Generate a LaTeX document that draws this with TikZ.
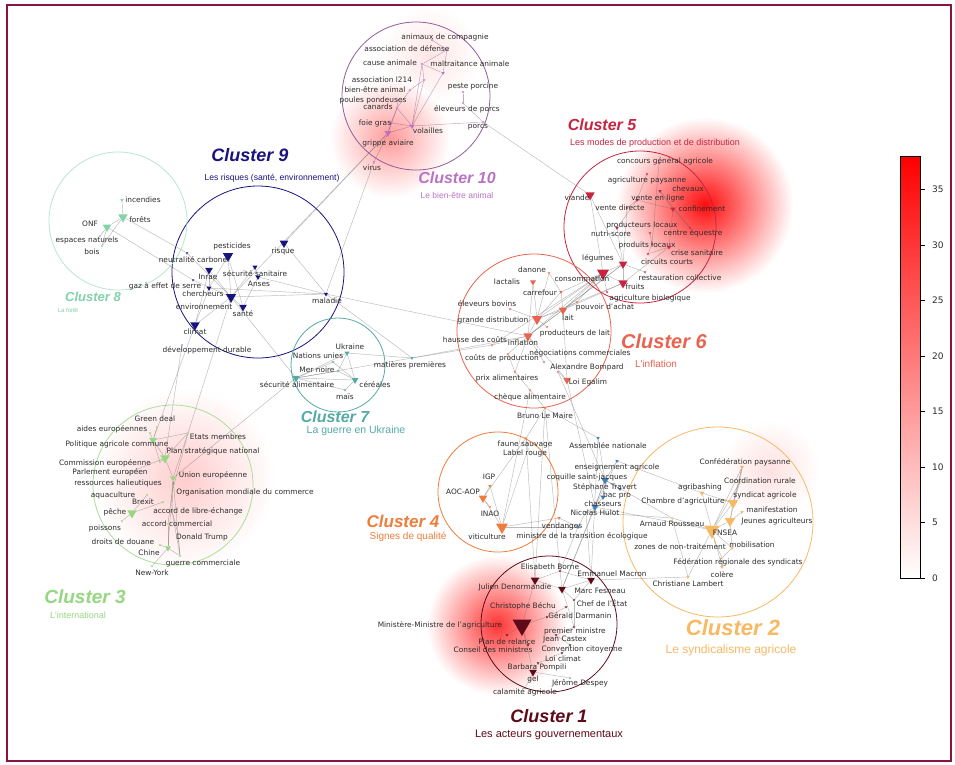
\documentclass[tikz,border=0pt]{standalone}
\usepackage{fontspec}
\setmainfont{DejaVu Sans}
\newfontfamily\titlefont{Liberation Sans}
\usetikzlibrary{shapes.geometric}
\pgfdeclarelayer{bg}\pgfdeclarelayer{edgelay}
\pgfsetlayers{bg,edgelay,main}
\definecolor{cA}{RGB}{95,10,25}
\definecolor{cB}{RGB}{247,185,100}
\definecolor{cC}{RGB}{150,215,130}
\definecolor{cD}{RGB}{238,125,60}
\definecolor{cE}{RGB}{200,35,65}
\definecolor{cF}{RGB}{232,100,80}
\definecolor{cG}{RGB}{85,170,165}
\definecolor{cH}{RGB}{130,210,170}
\definecolor{cI}{RGB}{25,20,125}
\definecolor{cJ}{RGB}{185,115,195}
\definecolor{cK}{RGB}{60,125,190}
\definecolor{frm}{RGB}{135,20,65}
\definecolor{lab}{RGB}{45,45,45}
\newcommand\cn[8]{\node[tri=#4,fill=#5] (#1) at (#2,#3) {};\node[lbl] (#1l) at (#6,#7) {#8};}
\begin{document}
\begin{tikzpicture}[x=1pt,y=-1pt,
 tri/.style={regular polygon,regular polygon sides=3,shape border rotate=180,inner sep=0pt,minimum size=#1pt,draw=none},
 lbl/.style={font=\fontsize{7.4}{8}\selectfont,text=lab,inner sep=0pt},
 edge/.style={draw=black!60,opacity=0.45,line width=0.45pt},
 ctitle/.style={font=\titlefont\bfseries\itshape\fontsize{#1}{#1}\selectfont,inner sep=0pt},
 csub/.style={font=\titlefont\fontsize{#1}{#1}\selectfont,inner sep=0pt},
 ring/.style={line width=0.8pt}]
\useasboundingbox (0,0) rectangle (955,764);
\begin{pgfonlayer}{bg}
\fill[white] (0,0) rectangle (955,764);
\shade[inner color=red!20,outer color=white] (185,478) circle (90pt);
\shade[inner color=red!10,outer color=white] (430,55) circle (50pt);
\shade[inner color=red!40,outer color=white] (390,138) circle (60pt);
\shade[inner color=red!95,outer color=white] (705,205) circle (88pt);
\shade[inner color=red!12,outer color=white] (770,470) circle (50pt);
\shade[inner color=red!80,outer color=white] (497,625) circle (70pt);
\draw[ring,draw=cJ!80!black] (416,96) circle (74pt);
\draw[ring,draw=cE] (640,227) circle (76pt);
\draw[ring,draw=cI] (258,272) circle (86pt);
\draw[ring,draw=cH!55] (118,221) circle (69pt);
\draw[ring,draw=cF] (534,331) circle (77pt);
\draw[ring,draw=cG] (338,365) circle (47pt);
\draw[ring,draw=cC!80] (173,485) circle (80pt);
\draw[ring,draw=cD] (498,492) circle (60pt);
\draw[ring,draw=cB] (718,522) circle (95pt);
\draw[ring,draw=cA] (549,624) circle (68pt);
\end{pgfonlayer}
% Cluster 10
\cn{k1}{432}{40}{3}{cJ}{445}{37}{animaux de compagnie}
\cn{k2}{447}{50}{3}{cJ}{407}{49}{association de défense}
\cn{k3}{422}{64}{3}{cJ}{390}{63}{cause animale}
\cn{k4}{443}{73}{4}{cJ}{470}{64}{maltraitance animale}
\cn{k5}{424}{80}{3}{cJ}{382}{80}{association l214}
\cn{k6}{463}{92}{3}{cJ}{473}{86}{peste porcine}
\cn{k7}{410}{90}{3}{cJ}{375}{90}{bien-être animal}
\cn{k8}{398}{100}{3}{cJ}{373}{100}{poules pondeuses}
\cn{k9}{397}{108}{3}{cJ}{378}{107}{canards}
\cn{k10}{463}{103}{3}{cJ}{467}{109}{éleveurs de porcs}
\cn{k11}{391}{123}{4}{cJ}{375}{123}{foie gras}
\cn{k12}{412}{126}{6}{cJ}{428}{131}{volailles}
\cn{k13}{483}{122}{3}{cJ}{478}{127}{porcs}
\cn{k14}{388}{133}{8}{cJ}{388}{143}{grippe aviaire}
\cn{k15}{374}{162}{3}{cJ}{372}{168}{virus}
% Cluster 9
\cn{r1}{228}{256}{12}{cI}{232}{246}{pesticides}
\cn{r2}{284}{243}{10}{cI}{283}{251}{risque}
\cn{r3}{187}{253}{3}{cI}{193}{260}{neutralité carbone}
\cn{r4}{209}{270}{9}{cI}{208}{277}{Inrae}
\cn{r5}{255}{267}{6}{cI}{255}{274}{sécurité sanitaire}
\cn{r6}{193}{280}{3}{cI}{165}{286}{gaz à effet de serre}
\cn{r7}{258}{277}{6}{cI}{259}{284}{Anses}
\cn{r8}{209}{288}{6}{cI}{203}{294}{chercheurs}
\cn{r9}{231}{297}{12}{cI}{204}{307}{environnement}
\cn{r10}{326}{294}{5}{cI}{327}{301}{maladie}
\cn{r11}{243}{307}{9}{cI}{243}{314}{santé}
\cn{r12}{195}{325}{11}{cI}{195}{332}{climat}
\cn{r13}{182}{345}{2}{cI}{207}{350}{développement durable}
% Cluster 8
\cn{f1}{122}{200}{4}{cH}{143}{200}{incendies}
\cn{f2}{123}{217}{11}{cH}{140}{220}{forêts}
\cn{f3}{107}{227}{10}{cH}{90}{224}{ONF}
\cn{f4}{100}{236}{3}{cH}{87}{240}{espaces naturels}
\cn{f5}{102}{246}{3}{cH}{92}{252}{bois}
% Cluster 5
\cn{p1}{659}{163}{3}{cE}{665}{161}{concours général agricole}
\cn{p2}{647}{174}{3}{cE}{647}{180}{agriculture paysanne}
\cn{p3}{660}{191}{4}{cE}{688}{189}{chevaux}
\cn{p4}{590}{195}{11}{cE}{577}{198}{viande}
\cn{p5}{637}{200}{4}{cE}{658}{198}{vente en ligne}
\cn{p6}{627}{208}{3}{cE}{620}{208}{vente directe}
\cn{p7}{673}{209}{6}{cE}{702}{209}{confinement}
\cn{p8}{617}{228}{4}{cE}{642}{225}{producteurs locaux}
\cn{p9}{690}{228}{3}{cE}{693}{233}{centre équestre}
\cn{p10}{650}{233}{3}{cE}{611}{234}{nutri-score}
\cn{p11}{652}{244}{3}{cE}{647}{245}{produits locaux}
\cn{p12}{669}{247}{5}{cE}{697}{253}{crise sanitaire}
\cn{p13}{623}{264}{10}{cE}{598}{258}{légumes}
\cn{p14}{648}{254}{3}{cE}{667}{262}{circuits courts}
\cn{p15}{603}{273}{14}{cE}{582}{279}{consommation}
\cn{p16}{645}{272}{3}{cE}{680}{278}{restauration collective}
\cn{p17}{623}{283}{11}{cE}{635}{287}{fruits}
\cn{p18}{607}{292}{3}{cE}{650}{298}{agriculture biologique}
% Cluster 6
\cn{s1}{549}{273}{3}{cF}{532}{270}{danone}
\cn{s2}{533}{282}{7}{cF}{507}{282}{lactalis}
\cn{s3}{561}{292}{4}{cF}{540}{293}{carrefour}
\cn{s4}{510}{309}{3}{cF}{487}{304}{éleveurs bovins}
\cn{s5}{577}{302}{3}{cF}{605}{307}{pouvoir d'achat}
\cn{s6}{537}{319}{12}{cF}{493}{320}{grande distribution}
\cn{s7}{563}{310}{10}{cF}{568}{318}{lait}
\cn{s8}{547}{327}{3}{cF}{575}{333}{producteurs de lait}
\cn{s9}{492}{345}{3}{cF}{475}{340}{hausse des coûts}
\cn{s10}{528}{336}{11}{cF}{523}{343}{inflation}
\cn{s11}{508}{354}{3}{cF}{502}{358}{coûts de production}
\cn{s12}{544}{362}{3}{cF}{580}{353}{négociations commerciales}
\cn{s13}{558}{372}{3}{cF}{587}{367}{Alexandre Bompard}
\cn{s14}{515}{372}{3}{cF}{507}{378}{prix alimentaires}
\cn{s15}{567}{380}{9}{cF}{588}{382}{Loi Egalim}
\cn{s16}{530}{390}{3}{cF}{530}{397}{chèque alimentaire}
\cn{s17}{545}{408}{3}{cF}{545}{416}{Bruno Le Maire}
% Cluster 7
\cn{u1}{347}{353}{6}{cG}{350}{347}{Ukraine}
\cn{u2}{333}{362}{3}{cG}{318}{356}{Nations unies}
\cn{u3}{338}{371}{3}{cG}{317}{370}{Mer noire}
\cn{u4}{412}{358}{4}{cG}{410}{365}{matières premières}
\cn{u5}{296}{378}{9}{cG}{297}{385}{sécurité alimentaire}
\cn{u6}{355}{380}{8}{cG}{375}{385}{céréales}
\cn{u7}{345}{390}{3}{cG}{345}{397}{maïs}
% Cluster 3
\cn{g1}{157}{427}{3}{cC}{155}{419}{Green deal}
\cn{g2}{150}{433}{3}{cC}{112}{429}{aides européennes}
\cn{g3}{188}{433}{3}{cC}{218}{437}{Etats membres}
\cn{g4}{153}{440}{9}{cC}{117}{444}{Politique agricole commune}
\cn{g5}{165}{458}{11}{cC}{213}{451}{Plan stratégique national}
\cn{g6}{160}{462}{3}{cC}{105}{463}{Commission européenne}
\cn{g7}{128}{473}{3}{cC}{110}{472}{Parlement européen}
\cn{g8}{173}{478}{7}{cC}{213}{475}{Union européenne}
\cn{g9}{173}{486}{3}{cC}{118}{483}{ressources halieutiques}
\cn{g10}{172}{492}{3}{cC}{245}{492}{Organisation mondiale du commerce}
\cn{g11}{147}{495}{3}{cC}{113}{495}{aquaculture}
\cn{g12}{163}{502}{3}{cC}{143}{502}{Brexit}
\cn{g13}{172}{511}{3}{cC}{198}{511}{accord de libre-échange}
\cn{g14}{132}{513}{11}{cC}{115}{512}{pêche}
\cn{g15}{122}{521}{3}{cC}{105}{528}{poissons}
\cn{g16}{168}{524}{3}{cC}{177}{524}{accord commercial}
\cn{g17}{178}{534}{3}{cC}{202}{537}{Donald Trump}
\cn{g18}{160}{545}{3}{cC}{123}{542}{droits de douane}
\cn{g19}{168}{548}{7}{cC}{149}{553}{Chine}
\cn{g20}{180}{556}{3}{cC}{203}{563}{guerre commerciale}
\cn{g21}{152}{566}{3}{cC}{152}{573}{New-York}
% Cluster 4
\cn{q1}{526}{438}{3}{cD}{525}{444}{faune sauvage}
\cn{q2}{528}{449}{2}{cD}{525}{453}{Label rouge}
\cn{q3}{490}{486}{4}{cD}{489}{477}{IGP}
\cn{q4}{483}{498}{10}{cD}{463}{492}{AOC-AOP}
\cn{q5}{490}{507}{3}{cD}{490}{514}{INAO}
\cn{q6}{502}{527}{14}{cD}{487}{537}{viticulture}
\cn{q7}{559}{518}{4}{cD}{562}{526}{vendanges}
% Middle (blue)
\cn{b1}{598}{438}{4}{cK}{608}{446}{Assemblée nationale}
\cn{b2}{617}{461}{4}{cK}{617}{467}{enseignement agricole}
\cn{b3}{605}{480}{9}{cK}{587}{477}{coquille saint-jacques}
\cn{b4}{620}{489}{4}{cK}{605}{487}{Stéphane Travert}
\cn{b5}{603}{497}{6}{cK}{617}{495}{bac pro}
\cn{b6}{595}{507}{8}{cK}{603}{504}{chasseurs}
\cn{b7}{586}{512}{3}{cK}{595}{513}{Nicolas Hulot}
\cn{b8}{578}{527}{4}{cK}{582}{536}{ministre de la transition écologique}
% Cluster 2
\cn{o1}{742}{467}{5}{cB}{745}{462}{Confédération paysanne}
\cn{o2}{740}{482}{3}{cB}{760}{481}{Coordination rurale}
\cn{o3}{702}{493}{6}{cB}{700}{487}{agribashing}
\cn{o4}{733}{503}{12}{cB}{765}{495}{syndicat agricole}
\cn{o5}{725}{500}{3}{cB}{683}{501}{Chambre d'agriculture}
\cn{o6}{742}{512}{4}{cB}{772}{510}{manifestation}
\cn{o7}{672}{518}{3}{cB}{672}{524}{Arnaud Rousseau}
\cn{o8}{730}{521}{12}{cB}{777}{521}{Jeunes agriculteurs}
\cn{o9}{712}{530}{18}{cB}{725}{533}{FNSEA}
\cn{o10}{715}{542}{3}{cB}{680}{547}{zones de non-traitement}
\cn{o11}{732}{548}{4}{cB}{752}{545}{mobilisation}
\cn{o12}{722}{558}{3}{cB}{738}{562}{Fédération régionale des syndicats}
\cn{o13}{722}{567}{4}{cB}{722}{575}{colère}
\cn{o14}{688}{577}{4}{cB}{688}{584}{Christiane Lambert}
% Cluster 1
\cn{m1}{560}{571}{3}{cA}{550}{567}{Elisabeth Borne}
\cn{m2}{591}{580}{9}{cA}{612}{574}{Emmanuel Macron}
\cn{m3}{535}{580}{10}{cA}{515}{587}{Julien Denormandie}
\cn{m4}{562}{589}{9}{cA}{600}{591}{Marc Fesneau}
\cn{m5}{574}{600}{3}{cA}{602}{603}{Chef de l'État}
\cn{m6}{566}{607}{3}{cA}{523}{606}{Christophe Béchu}
\cn{m7}{547}{617}{3}{cA}{580}{616}{Gérald Darmanin}
\cn{m8}{522}{625}{22}{cA}{440}{625}{Ministère-Ministre de l'agriculture}
\cn{m9}{574}{627}{3}{cA}{575}{631}{premier ministre}
\cn{m10}{507}{635}{3}{cA}{507}{642}{Plan de relance}
\cn{m11}{556}{635}{3}{cA}{565}{639}{Jean Castex}
\cn{m12}{528}{645}{3}{cA}{493}{650}{Conseil des ministres}
\cn{m13}{570}{645}{3}{cA}{582}{649}{Convention citoyenne}
\cn{m14}{562}{653}{3}{cA}{563}{659}{Loi climat}
\cn{m15}{538}{663}{3}{cA}{537}{667}{Barbara Pompili}
\cn{m16}{533}{672}{9}{cA}{533}{679}{gel}
\cn{m17}{570}{678}{2}{cA}{580}{683}{Jérôme Despey}
\cn{m18}{525}{688}{2}{cA}{525}{692}{calamité agricole}
% edges
\begin{pgfonlayer}{edgelay}
\foreach \a/\b in {k14/k12,k14/k11,k14/k9,k11/k9,k9/k7,k7/k5,k5/k3,k3/k4,k4/k2,k2/k1,k3/k2,k12/k4,k12/k5,k12/k3,k14/k15,k12/k9,k6/k10,k10/k13,k13/k12,k8/k9,k11/k12}
 \draw[edge,draw=cJ!60!black] (\a) -- (\b);
\foreach \a/\b in {
 r1/r9,r1/r8,r4/r9,r4/r8,r4/r12,r9/r11,r9/r12,r5/r7,r7/r11,r5/r9,r2/r10,r9/r10,r8/r10,r3/r9,r6/r9,r11/r1,r7/r10,r12/r8,k14/r2,k15/r10,k14/r9,
 f1/f2,f2/f3,f3/f4,f3/f5,f2/f5,f2/r3,f3/r6,
 r12/g4,r9/g3,r13/g5,
 u1/u5,u1/u6,u1/u4,u2/u5,u3/u5,u5/u6,u6/u7,u5/u4,u1/u3,u2/u6,u3/u6,u7/u5,u4/s9,u4/s10,u5/g8,r9/u5,r10/u4,r10/s10,
 g1/g4,g2/g4,g4/g3,g4/g5,g3/g5,g3/g8,g5/g8,g6/g5,g4/g6,g8/g10,g8/g13,g10/g16,g13/g17,g16/g19,g17/g20,g19/g20,g18/g19,g12/g14,g11/g14,g14/g15,g9/g8,g7/g5,g10/g19,g3/g10,g21/g19,g13/g20,g8/g20,
 s1/s3,s2/s6,s3/s6,s3/s7,s6/s7,s6/s10,s7/s10,s10/s9,s10/s11,s10/s14,s6/s8,s7/s15,s10/s15,s13/s15,s11/s14,s14/s16,s16/s17,s4/s6,s5/s7,s12/s10,s2/s10,s1/s6,
 s7/p15,s6/p15,s10/p15,s5/p15,s3/p15,s7/p13,s6/p17,s10/p13,s9/p15,s7/p17,
 p13/p15,p13/p17,p15/p17,p13/p8,p8/p5,p5/p7,p7/p3,p7/p12,p12/p14,p14/p11,p11/p10,p2/p5,p1/p11,p6/p5,p6/p13,p9/p7,p16/p13,p18/p15,p4/p15,p4/p13,p12/p17,p3/p9,k13/p4,
 s17/q1,s17/m1,s16/q6,s17/b1,s13/b3,s15/b6,
 q3/q4,q4/q5,q3/q6,q4/q6,q6/q7,q1/q2,q2/q6,q1/q4,q7/b8,q6/b8,
 b1/b3,b2/b3,b3/b5,b5/b6,b6/b7,b7/b8,b2/b6,b3/b6,b4/b3,b2/o3,b3/o7,b6/o9,b7/o7,
 o1/o2,o1/o4,o2/o4,o4/o8,o8/o9,o4/o9,o6/o8,o3/o9,o5/o4,o7/o9,o9/o10,o9/o11,o8/o11,o11/o12,o12/o13,o9/o13,o14/o9,o3/o4,o1/o8,o1/o9,o2/o9,o10/o12,o7/o14,
 m1/m3,m1/m2,m2/m4,m3/m4,m3/m8,m4/m5,m5/m9,m6/m7,m7/m8,m8/m10,m8/m12,m9/m11,m11/m13,m13/m14,m14/m15,m15/m16,m16/m18,m16/m17,m8/m16,m4/m9,m2/m5,m1/m4,m2/o14,m3/s17,m1/b8,m2/b7,m4/b6,m3/q1,m4/b3,m2/b1}
 \draw[edge] (\a) -- (\b);
\end{pgfonlayer}
% cluster titles
\node[ctitle=16,text=cJ] (t10) at (457,178) {Cluster 10};
\node[csub=8.5,text=cJ] (d10) at (457,195) {Le bien-être animal};
\node[ctitle=18,text=cI] (t9) at (250,155) {Cluster 9};
\node[csub=8.6,text=cI] (d9) at (272,178) {Les risques (santé, environnement)};
\node[ctitle=13,text=cH] (t8) at (93,297) {Cluster 8};
\node[csub=6,text=cH] (d8) at (68,310) {La forêt};
\node[ctitle=16,text=cE] (t5) at (602,125) {Cluster 5};
\node[csub=9,text=cE] (d5) at (655,143) {Les modes de production et de distribution};
\node[ctitle=20,text=cF] (t6) at (664,341) {Cluster 6};
\node[csub=10,text=cF] (d6) at (656,364) {L'inflation};
\node[ctitle=16,text=cG] (t7) at (335,417) {Cluster 7};
\node[csub=10.5,text=cG] (d7) at (356,431) {La guerre en Ukraine};
\node[ctitle=19,text=cC] (t3) at (85,597) {Cluster 3};
\node[csub=9,text=cC] (d3) at (78,615) {L'international};
\node[ctitle=17,text=cD] (t4) at (403,521) {Cluster 4};
\node[csub=10,text=cD] (d4) at (408,537) {Signes de qualité};
\node[ctitle=22,text=cB] (t2) at (733,628) {Cluster 2};
\node[csub=12,text=cB] (d2) at (731,650) {Le syndicalisme agricole};
\node[ctitle=18,text=cA] (t1) at (549,716) {Cluster 1};
\node[csub=11,text=cA] (d1) at (549,735) {Les acteurs gouvernementaux};
% colour bar
\shade[bottom color=white,top color=red] (900,156) rectangle (920,578);
\draw[black,line width=0.9pt] (900,156) rectangle (920,578);
\foreach \v in {0,5,...,35}{
 \draw[black,line width=0.7pt] (920,{578-11.1*\v}) -- (925,{578-11.1*\v});
 \node[anchor=west,font=\fontsize{9}{10}\selectfont,text=lab,inner sep=0pt] (tk\v) at (932,{578-11.1*\v}) {\v};}
% frame
\draw[frm,line width=1.6pt] (7,5) rectangle (951,761);
\end{tikzpicture}
\end{document}
